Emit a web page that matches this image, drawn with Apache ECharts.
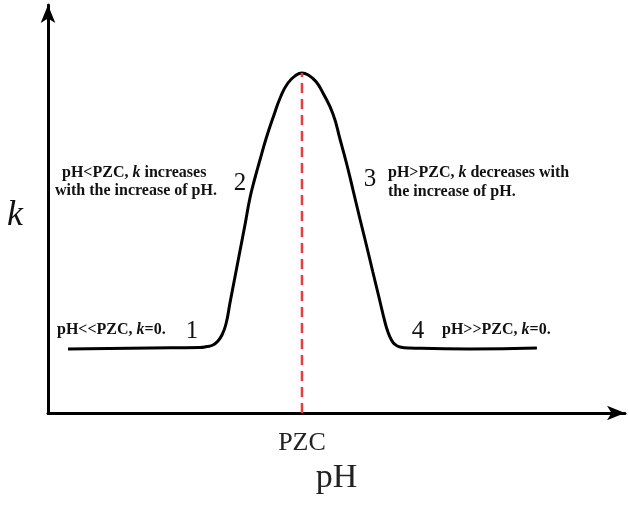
<!DOCTYPE html>
<html>
<head>
<meta charset="utf-8">
<script src="https://cdn.jsdelivr.net/npm/echarts@6/dist/echarts.min.js"></script>
<style>html,body{margin:0;padding:0;background:#fff;}#c{width:629px;height:505px;}</style>
</head>
<body>
<div id="c"></div>
<script>
// pH (arbitrary units) along the curve
var curveX = [3.52, 17.96, 26.76, 27.99, 29.05, 29.93, 30.63, 31.34, 32.04, 32.92, 33.80, 34.68, 35.56, 36.44, 37.32, 38.38, 39.79, 41.02, 42.25, 43.49, 44.72,
              45.95, 47.18, 48.42, 50.18, 51.41, 52.64, 53.79, 54.89, 56.06, 57.20, 58.31, 59.33, 59.86, 60.39, 61.09, 61.97, 63.73, 74.30, 86.09];
// k (arbitrary units) along the curve
var curveK = [16.0, 16.25, 16.38, 16.63, 17.0, 18.0, 19.5, 22.25, 27.5, 34.0, 40.5, 47.0, 53.75, 58.75, 63.25, 68.5, 74.5, 79.25, 82.5, 84.25, 85.0,
              84.38, 82.88, 80.0, 74.75, 68.5, 62.0, 55.25, 48.75, 42.0, 35.25, 28.75, 22.75, 20.25, 18.5, 17.13, 16.5, 16.25, 16.0, 16.25];
var pzc = 44.72;
var kPeak = 85.0;
var xTickLabels = ['PZC'];
var xName = 'pH';
var yName = 'k';
var xMax = 101.6;
var yMax = 102;

var curveData = curveX.map(function (x, i) { return [x, curveK[i]]; });

var serif = '"Liberation Serif", "DejaVu Serif", serif';
var chart = echarts.init(document.getElementById('c'));

function note(x, y, text, align, size, bold, italic) {
  return {
    type: 'text', x: x, y: y,
    style: {
      text: text, align: align, verticalAlign: 'middle',
      font: (italic ? 'italic ' : '') + (bold ? 'bold ' : '') + size + 'px ' + serif,
      fill: '#111',
      rich: { k: { fontStyle: 'italic', fontWeight: 'bold', fontSize: size, fontFamily: serif, fill: '#111' },
              n: { fontWeight: 'bold', fontSize: size, fontFamily: serif, fill: '#111' } }
    }
  };
}

var option = {
  backgroundColor: '#fff',
  animation: false,
  grid: { left: 48, right: 4, top: 5, bottom: 92, containLabel: false },
  xAxis: {
    type: 'value', min: 0, max: xMax,
    name: xName, nameLocation: 'middle', nameGap: 48,
    nameTextStyle: { fontFamily: serif, fontSize: 34, color: '#222' },
    axisLine: { show: true, symbol: ['none', 'arrow'], symbolSize: [11, 18], lineStyle: { color: '#000', width: 3 } },
    axisTick: { show: false },
    splitLine: { show: false },
    axisLabel: {
      customValues: [pzc],
      formatter: function () { return xTickLabels[0]; },
      margin: 17, fontFamily: serif, fontSize: 26, color: '#222'
    }
  },
  yAxis: {
    type: 'value', min: 0, max: yMax,
    axisLine: { show: true, symbol: ['none', 'arrow'], symbolSize: [11, 18], lineStyle: { color: '#000', width: 3 } },
    axisTick: { show: false },
    splitLine: { show: false },
    axisLabel: { show: false }
  },
  series: [
    {
      type: 'line', data: curveData, smooth: 0.5, symbol: 'none',
      lineStyle: { color: '#000', width: 3 }, z: 3
    },
    {
      type: 'line', data: [[pzc, 0], [pzc, kPeak]], symbol: 'none',
      lineStyle: { color: '#ea3a3a', width: 2.5, type: [10, 6] }, z: 4
    }
  ],
  graphic: [
    note(15, 216, yName, 'center', 36, false, true),
    note(62, 173, '{n|pH<PZC, }{k|k}{n| increases}', 'left', 16, true),
    note(55, 191, 'with the increase of pH.', 'left', 16, true),
    note(240, 183, '2', 'center', 25, false),
    note(370, 179, '3', 'center', 25, false),
    note(388, 173, '{n|pH>PZC, }{k|k}{n| decreases with}', 'left', 16, true),
    note(388, 192, 'the increase of pH.', 'left', 16, true),
    note(57, 330, '{n|pH<<PZC, }{k|k}{n|=0.}', 'left', 16, true),
    note(192, 331, '1', 'center', 25, false),
    note(418, 331, '4', 'center', 25, false),
    note(442, 330, '{n|pH>>PZC, }{k|k}{n|=0.}', 'left', 16, true)
  ]
};
chart.setOption(option);
</script>
</body>
</html>
